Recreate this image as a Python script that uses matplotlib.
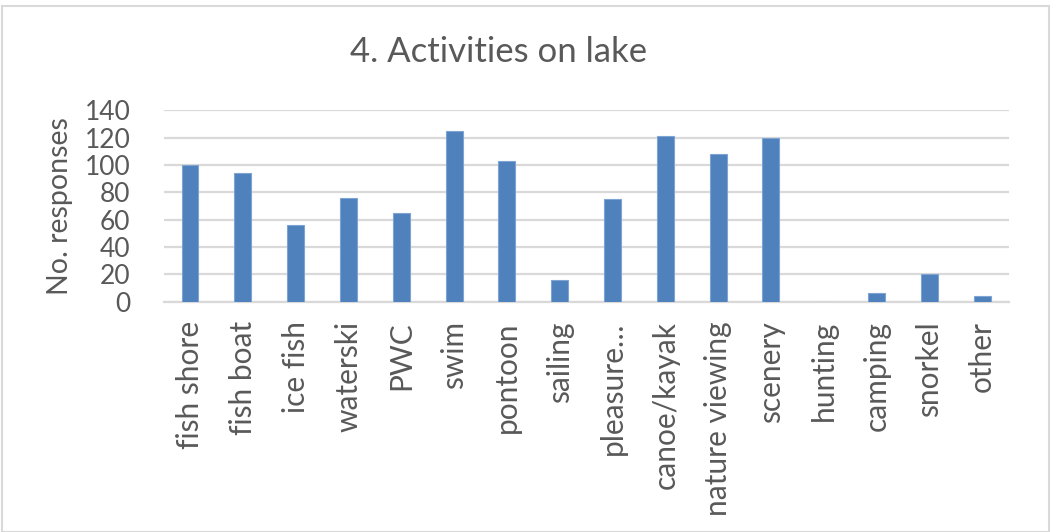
import matplotlib.pyplot as plt
from matplotlib.patches import Rectangle

# responses per activity
activities = ['fish shore', 'fish boat', 'ice fish', 'waterski', 'PWC', 'swim',
              'pontoon', 'sailing', 'pleasure…', 'canoe/kayak', 'nature viewing',
              'scenery', 'hunting', 'camping', 'snorkel', 'other']
responses = [100, 94, 56, 76, 65, 125, 103, 16, 75, 121, 108, 120, 0, 6, 20, 4]
yticks = [0, 20, 40, 60, 80, 100, 120, 140]

txt = '#595959'
grid = '#d9d9d9'
plt.rcParams['font.family'] = ['Lato', 'DejaVu Sans']

fig = plt.figure(figsize=(10.53, 5.32), dpi=100)
ax = fig.add_axes([0.1554, 0.4329, 0.8024, 0.3598])

x = range(len(activities))
ax.bar(x, responses, width=0.32, color='#4f81bd', edgecolor='#7ea4d3',
       linewidth=0.8, zorder=3)

ax.set_xlim(-0.5, len(activities) - 0.5)
ax.set_ylim(0, 140)
ax.set_yticks(yticks)
ax.set_yticklabels([str(v) for v in yticks], fontsize=19, color=txt)
ax.set_xticks(list(x))
ax.set_xticklabels(activities, rotation=90, fontsize=21.5, color=txt,
                   va='top', ha='center')
ax.tick_params(axis='y', length=0, pad=24)
ax.tick_params(axis='x', length=0, pad=14)
ax.grid(axis='y', color=grid, linewidth=1.6, zorder=0)
for s in ['top', 'right', 'left']:
    ax.spines[s].set_visible(False)
ax.spines['bottom'].set_color(grid)
ax.spines['bottom'].set_linewidth(1.6)

ax.set_ylabel('No. responses', fontsize=20.5, color=txt, labelpad=8)
fig.text(0.473, 0.903, '4. Activities on lake', fontsize=25, color=txt,
         ha='center', va='center')

# chart border
fig.patches.append(Rectangle((0.002, 0.0), 0.994, 0.988, transform=fig.transFigure,
                             fill=False, edgecolor=grid, linewidth=1.5))

fig.savefig('out.png', dpi=100)
